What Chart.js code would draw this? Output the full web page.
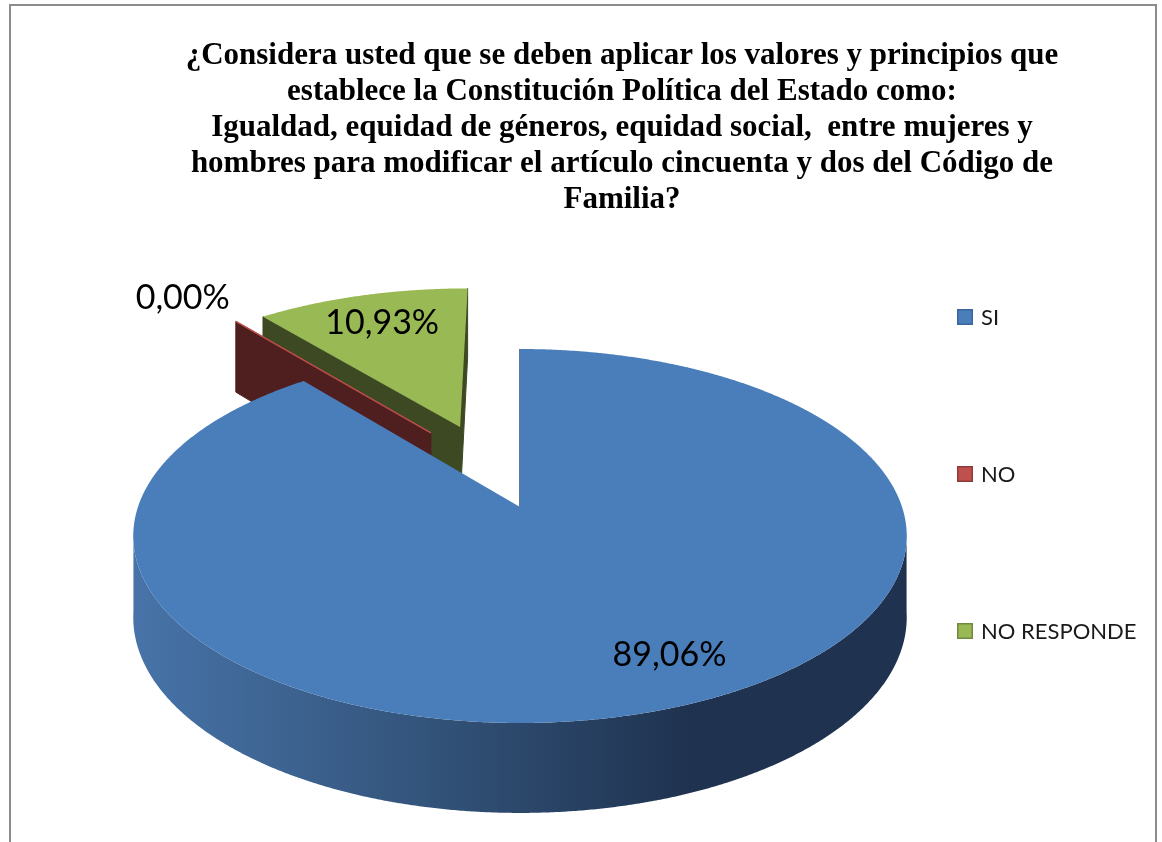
<!DOCTYPE html>
<html>
<head>
<meta charset="utf-8">
<script src="https://cdn.jsdelivr.net/npm/chart.js@4.4.1/dist/chart.umd.min.js"></script>
<style>
  html, body { margin: 0; padding: 0; background: #ffffff; }
  #wrap { width: 1162px; height: 842px; }
</style>
</head>
<body>
<div id="wrap"><canvas id="c" width="1162" height="842"></canvas></div>
<script>
// ---------------- data ----------------
const categories = ['SI', 'NO', 'NO RESPONDE'];
const values = [89.06, 0.00, 10.93];
const titleLines = [
  '¿Considera usted que se deben aplicar los valores y principios que',
  'establece la Constitución Política del Estado como:',
  'Igualdad, equidad de géneros, equidad social,  entre mujeres y',
  'hombres para modificar el artículo cincuenta y dos del Código de',
  'Familia?'
];

// ---------------- styles ----------------
const topColors = ['#4a7ebb', '#c0504d', '#98b954'];
const legendBorders = ['#3a6699', '#8e3b39', '#71893f'];
const wallColors = ['#2b4a73', '#4f1f1f', '#3c4922'];
const sideStops = [
  [[0, '#4773a8'], [0.34, '#35577f'], [0.72, '#1f3350'], [1, '#1f3350']],
  [[0, '#6a2a29'], [1, '#4f1f1f']],
  [[0, '#55682f'], [1, '#3c4922']]
];
const explode = [0, 0.5, 0.5];          // fraction of radius
const explodeTurnDeg = [0, 9.5, 0];     // direction tweak of explosion
const labelRadius = [0.8, 1.27, 0.77];
const labelNudge = [[33, -8], [-7, 3], [0, 0]];
const VIEW = { sx: 1.322, sy: 0.6315, k: 0.155, depth: 0.277, kd: 0.11 };
const LEGEND = { width: 204, inset: 9, firstY: 317, gap: 157, box: 16, font: "22px Lato, 'Open Sans', sans-serif" };
const LABEL_FONT = "34px Lato, 'Open Sans', sans-serif";

const fmt = v => v.toFixed(2).replace('.', ',') + '%';

// ---------------- plugins ----------------
const frame = {
  id: 'frame',
  beforeDraw(chart) {
    const ctx = chart.ctx;
    ctx.save();
    ctx.fillStyle = '#ffffff';
    ctx.fillRect(0, 0, chart.width, chart.height);
    ctx.strokeStyle = '#8c8c8c';
    ctx.lineWidth = 2;
    ctx.strokeRect(10, 5, 1146, 900);
    ctx.restore();
  }
};

const sideLegend = {
  id: 'sideLegend',
  beforeInit(chart) {
    const box = {
      position: 'right', weight: 10, fullSize: false, options: {},
      left: 0, top: 0, right: 0, bottom: 0, width: 0, height: 0,
      isHorizontal() { return false; },
      update(maxWidth, maxHeight) { this.width = LEGEND.width; this.height = maxHeight; },
      draw() {
        const ctx = chart.ctx;
        const ds = chart.data.datasets[0];
        ctx.save();
        ctx.font = LEGEND.font;
        ctx.textBaseline = 'middle';
        ctx.textAlign = 'left';
        chart.data.labels.forEach((lab, i) => {
          const x = this.left + LEGEND.inset;
          const y = LEGEND.firstY + i * LEGEND.gap;
          ctx.fillStyle = ds.backgroundColor[i];
          ctx.fillRect(x, y - LEGEND.box / 2, LEGEND.box, LEGEND.box);
          ctx.strokeStyle = legendBorders[i];
          ctx.lineWidth = 1.5;
          ctx.strokeRect(x + 0.75, y - LEGEND.box / 2 + 0.75, LEGEND.box - 1.5, LEGEND.box - 1.5);
          ctx.fillStyle = '#1a1a1a';
          ctx.fillText(lab, x + LEGEND.box + 8, y + 1);
        });
        ctx.restore();
      }
    };
    Chart.layouts.addBox(chart, box);
  }
};

const pie3d = {
  id: 'pie3d',
  beforeDatasetsDraw(chart) {
    const ctx = chart.ctx;
    const meta = chart.getDatasetMeta(0);
    const arcs = meta.data;
    const ds = chart.data.datasets[0];
    const R = arcs[0].outerRadius, cx = arcs[0].x, cy = arcs[0].y;
    const A = VIEW.sx * R, B = VIEW.sy * R, k = VIEW.k, H = VIEW.depth * R, kd = VIEW.kd;
    const camV = 1 / k;
    const P = (u, v, down) => {
      const w = 1 - k * v;
      const x = cx + A * u / w;
      let y = cy + B * v / w;
      if (down) y += H / (1 - kd * v);
      return [x, y];
    };
    const info = arcs.map((arc, i) => {
      const a1 = arc.startAngle, a2 = arc.endAngle, mid = (a1 + a2) / 2;
      const ea = mid + explodeTurnDeg[i] * Math.PI / 180;
      return { i, a1, a2, mid, ou: explode[i] * Math.cos(ea), ov: explode[i] * Math.sin(ea) };
    });
    const order = info.slice().sort((p, q) => p.ov - q.ov);

    const poly = (pts, fill, stroke) => {
      ctx.beginPath();
      pts.forEach((p, j) => j ? ctx.lineTo(p[0], p[1]) : ctx.moveTo(p[0], p[1]));
      ctx.closePath();
      ctx.fillStyle = fill; ctx.fill();
      if (stroke) { ctx.strokeStyle = stroke; ctx.lineWidth = 1; ctx.stroke(); }
    };

    ctx.save();
    order.forEach(s => {
      const { i, a1, a2, ou, ov } = s;
      // radial walls
      [[a1, 'start'], [a2, 'end']].forEach(([a, kind]) => {
        const nu = kind === 'start' ? Math.sin(a) : -Math.sin(a);
        const nv = kind === 'start' ? -Math.cos(a) : Math.cos(a);
        const p0 = [ou, ov], p1 = [ou + Math.cos(a), ov + Math.sin(a)];
        const m = [(p0[0] + p1[0]) / 2, (p0[1] + p1[1]) / 2];
        const vis = (0 - m[0]) * nu + (camV - m[1]) * nv;
        if (vis >= -1e-6) {
          poly([P(p0[0], p0[1]), P(p1[0], p1[1]), P(p1[0], p1[1], true), P(p0[0], p0[1], true)], wallColors[i], wallColors[i]);
        }
      });
      // outer curved side (front facing part)
      const span = a2 - a1;
      if (span > 1e-6) {
        const n = Math.max(2, Math.ceil(span / 0.005));
        let run = [];
        const runs = [];
        for (let j = 0; j <= n; j++) {
          const t = a1 + span * j / n;
          if (Math.sin(t) > k - 0.03) run.push(t);
          else if (run.length) { runs.push(run); run = []; }
        }
        if (run.length) runs.push(run);
        runs.forEach(r => {
          if (r.length < 2) return;
          const top = r.map(t => P(ou + Math.cos(t), ov + Math.sin(t)));
          const bot = r.slice().reverse().map(t => P(ou + Math.cos(t), ov + Math.sin(t), true));
          const g = ctx.createLinearGradient(cx - A, 0, cx + A, 0);
          sideStops[i].forEach(st => g.addColorStop(st[0], st[1]));
          poly(top.concat(bot), g, null);
        });
        // top face
        const pts = [P(ou, ov)];
        for (let j = 0; j <= n; j++) {
          const t = a1 + span * j / n;
          pts.push(P(ou + Math.cos(t), ov + Math.sin(t)));
        }
        poly(pts, ds.backgroundColor[i], null);
      } else {
        // zero slice: top face collapses to a line
        const p0 = P(ou, ov), p1 = P(ou + Math.cos(a1), ov + Math.sin(a1));
        ctx.beginPath(); ctx.moveTo(p0[0], p0[1]); ctx.lineTo(p1[0], p1[1]);
        ctx.strokeStyle = ds.backgroundColor[i]; ctx.lineWidth = 1.5; ctx.stroke();
      }
    });
    // data labels
    ctx.font = LABEL_FONT;
    ctx.fillStyle = '#000000';
    ctx.textAlign = 'center';
    ctx.textBaseline = 'middle';
    info.forEach(s => {
      const f = labelRadius[s.i];
      const p = P(s.ou + f * Math.cos(s.mid), s.ov + f * Math.sin(s.mid));
      ctx.fillText(fmt(ds.data[s.i]), p[0] + labelNudge[s.i][0], p[1] + labelNudge[s.i][1]);
    });
    ctx.restore();
    return false;
  }
};

// ---------------- chart ----------------
new Chart(document.getElementById('c'), {
  type: 'pie',
  data: {
    labels: categories,
    datasets: [{ data: values, backgroundColor: topColors, borderWidth: 0, offset: 0 }]
  },
  options: {
    responsive: false,
    animation: false,
    events: [],
    layout: { padding: { left: 92, right: 10, top: 8, bottom: 46 } },
    plugins: {
      legend: { display: false },
      tooltip: { enabled: false },
      title: {
        display: true,
        text: titleLines,
        color: '#000000',
        font: { family: "'Liberation Serif', 'Times New Roman', serif", size: 31, weight: 'bold', lineHeight: '36px' },
        padding: { top: 30, bottom: 0 }
      }
    }
  },
  plugins: [frame, sideLegend, pie3d]
});
</script>
</body>
</html>
